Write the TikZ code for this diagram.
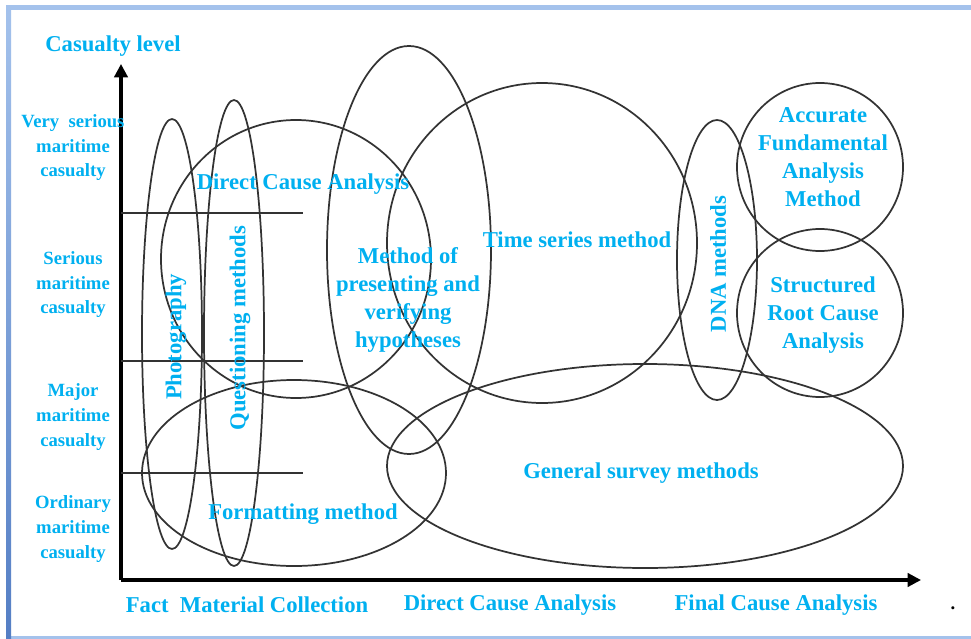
\documentclass[tikz,border=0pt]{standalone}
\usepackage{fontspec}
\setmainfont{Liberation Serif}
\usetikzlibrary{arrows.meta}
\definecolor{labblue}{RGB}{0,176,240}
\definecolor{framelight}{RGB}{164,194,236}
\definecolor{framedark}{RGB}{84,126,196}

\begin{document}
\begin{tikzpicture}[x=0.75pt, y=-0.75pt, >={Triangle[length=10pt,width=10pt]},
                    lab/.style={text=labblue, font=\fontsize{17}{21}\selectfont\bfseries, align=center},
                    ylab/.style={text=labblue, font=\fontsize{14}{18.4}\selectfont\bfseries, align=center},
                    set/.style={draw=black!80, line width=1.3pt},
                    axis/.style={draw=black, line width=2.3pt, ->}]

    % page and frame
    \useasboundingbox (0,0) rectangle (971,639);
    \fill[white] (0,0) rectangle (971,639);
    \fill[framelight] (6,5) rectangle (971,10);
    \fill[framelight] (6,636) rectangle (971,639);
    \shade[top color=framelight, bottom color=framedark] (6,5) rectangle (11,639);

    % axes
    \coordinate (o) at (121,580);
    \coordinate (ytop) at (121,64);
    \coordinate (xend) at (921,580);
    \coordinate (h1) at (303,213);
    \coordinate (h2) at (303,361);
    \coordinate (h3) at (303,473);
    \draw[axis] (o) -- (ytop);
    \draw[axis] (o) -- (xend);
    \draw[set] (o |- h1) -- (h1);
    \draw[set] (o |- h2) -- (h2);
    \draw[set] (o |- h3) -- (h3);

    % method sets
    \draw[set] (172,334) ellipse [x radius=30, y radius=215];
    \draw[set] (234,333) ellipse [x radius=30, y radius=233];
    \draw[set] (296,259) ellipse [x radius=135, y radius=139];
    \draw[set] (409,250) ellipse [x radius=82, y radius=204];
    \draw[set] (542,243) ellipse [x radius=155, y radius=160];
    \draw[set] (717,260) ellipse [x radius=40, y radius=140];
    \draw[set] (820,167) ellipse [x radius=83, y radius=84];
    \draw[set] (820,313) ellipse [x radius=83, y radius=84];
    \draw[set] (294,473) ellipse [x radius=152, y radius=93];
    \draw[set] (645,466) ellipse [x radius=258, y radius=102];

    % axis labels
    \node[lab] (clev) at (113,46) {Casualty level};
    \node[ylab] (vser) at (73,148) {Very\ \ serious\\maritime\\casualty};
    \node[ylab] (ser) at (73,285) {Serious\\maritime\\casualty};
    \node[ylab] (maj) at (73,417) {Major\\maritime\\casualty};
    \node[ylab] (ord) at (73,529) {Ordinary\\maritime\\casualty};
    \node[lab] (fmc) at (247,605) {Fact\ \ Material Collection};
    \node[lab] (dcax) at (510,605) {Direct Cause Analysis};
    \node[lab] (fcax) at (776,605) {Final Cause Analysis};

    % method labels
    \node[lab, rotate=90] (photo) at (176,337) {Photography};
    \node[lab, rotate=90] (quest) at (240,328) {Questioning methods};
    \node[lab] (dca) at (303,184) {Direct Cause Analysis};
    \node[lab] (hyp) at (408,300) {Method of\\presenting and\\verifying\\hypotheses};
    \node[lab] (time) at (577,240) {Time series method};
    \node[lab, rotate=90] (dna) at (718,264) {DNA methods};
    \node[lab] (afam) at (823,157) {Accurate\\Fundamental\\Analysis\\Method};
    \node[lab] (srca) at (823,315) {Structured\\Root Cause\\Analysis};
    \node[lab] (form) at (303,514) {Formatting method};
    \node[lab] (gsm) at (641,473) {General survey methods};
    \node[font=\fontsize{14}{14}\selectfont\bfseries] (dot) at (953,608) {.};
\end{tikzpicture}
\end{document}
